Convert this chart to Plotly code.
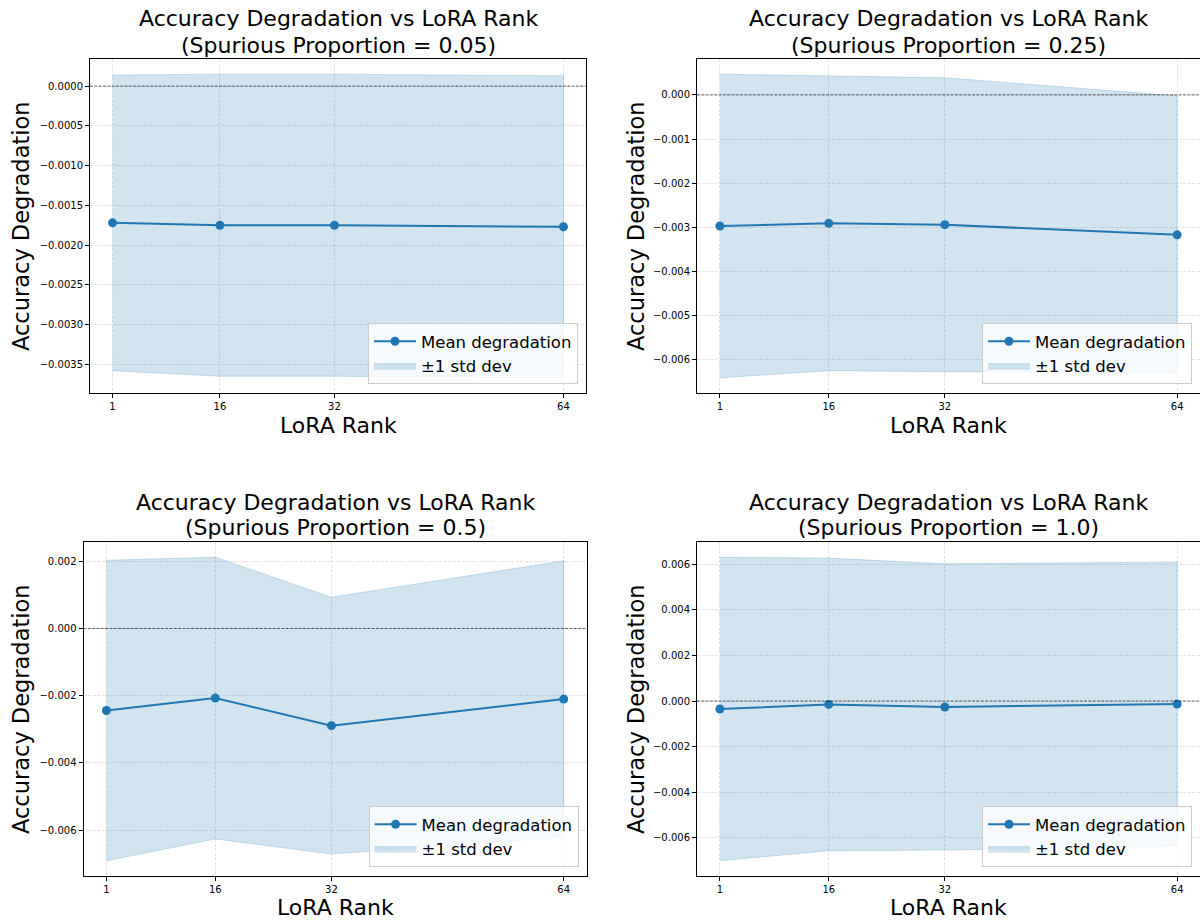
import plotly.graph_objects as go

# ---- data ----
ranks = [1, 16, 32, 64]
proportions = ["0.05", "0.25", "0.5", "1.0"]

mean_005 = [-0.00172, -0.00175, -0.00175, -0.00177]
std_005 = [0.00186, 0.00190, 0.00190, 0.00190]

mean_025 = [-0.00297, -0.00291, -0.00294, -0.00317]
std_025 = [0.00344, 0.00334, 0.00333, 0.00315]

mean_05 = [-0.00244, -0.00207, -0.00289, -0.00210]
std_05 = [0.00447, 0.00419, 0.00382, 0.00411]

mean_10 = [-0.00035, -0.00015, -0.00026, -0.00013]
std_10 = [0.00665, 0.00641, 0.00627, 0.00622]

means = [mean_005, mean_025, mean_05, mean_10]
stds = [std_005, std_025, std_05, std_10]
ytick_formats = [".4f", ".3f", ".3f", ".3f"]
ytick_steps = [0.0005, 0.001, 0.002, 0.002]

# ---- layout geometry (pixels) ----
W, H = 1200, 922
# (left, right, top, bottom) in pixels for each axes box
boxes = [
    (90, 586, 59, 393),
    (697, 1200, 59, 393),
    (83.5, 586.6, 542, 876),
    (697, 1200, 542, 876),
]
ylabel_x = [21, 636, 21, 636]
title_y = [(19, 45), (19, 45), (502, 527), (502, 527)]
xlabel_y = [425, 425, 907, 907]

FONT = "DejaVu Sans"
C0 = "#1f77b4"

fig = go.Figure()
annotations = []
shapes = []

for i in range(4):
    ax = "" if i == 0 else str(i + 1)
    xref, yref = "x" + ax, "y" + ax
    leg = "legend" if i == 0 else "legend" + str(i + 1)
    m, s = means[i], stds[i]
    upper = [a + b for a, b in zip(m, s)]
    lower = [a - b for a, b in zip(m, s)]

    fig.add_trace(go.Scatter(
        x=ranks + ranks[::-1], y=upper + lower[::-1],
        fill="toself", fillcolor="rgba(31,119,180,0.2)",
        line=dict(color="rgba(31,119,180,0.2)", width=1),
        mode="lines", name="±1 std dev",
        xaxis=xref, yaxis=yref, legend=leg, legendrank=2,
        legendgroup="band" + ax, hoverinfo="skip",
    ))
    fig.add_trace(go.Scatter(
        x=ranks, y=m, mode="lines+markers", name="Mean degradation",
        line=dict(color=C0, width=2),
        marker=dict(size=9, color=C0, line=dict(width=0)),
        xaxis=xref, yaxis=yref, legend=leg, legendrank=1,
        legendgroup="mean" + ax,
    ))

    l, r, t, b = boxes[i]
    lo, hi = min(lower), max(upper)
    pad = 0.05 * (hi - lo)
    xpad = 0.05 * (max(ranks) - min(ranks))

    axis_common = dict(
        showline=True, linecolor="black", linewidth=1, mirror=True,
        ticks="outside", ticklen=4, tickwidth=1, tickcolor="black",
        showgrid=True, gridcolor="rgba(176,176,176,0.35)", griddash="3px,1.5px",
        gridwidth=0.8, zeroline=False,
        tickfont=dict(family=FONT, size=10, color="black"),
    )
    fig.update_layout({
        "xaxis" + ax: dict(
            domain=[l / W, r / W], anchor=yref,
            range=[min(ranks) - xpad, max(ranks) + xpad],
            tickmode="array", tickvals=ranks, ticktext=[str(v) for v in ranks],
            **axis_common,
        ),
        "yaxis" + ax: dict(
            domain=[1 - b / H, 1 - t / H], anchor=xref,
            range=[lo - pad, hi + pad],
            tickformat=ytick_formats[i], dtick=ytick_steps[i], tick0=0,
            **axis_common,
        ),
        leg: dict(
            x=(r - 8) / W, y=1 - (b - 9) / H, xanchor="right", yanchor="bottom",
            xref="paper", yref="paper",
            bgcolor="rgba(255,255,255,0.8)", bordercolor="#cccccc", borderwidth=1,
            font=dict(family=FONT, size=16.5, color="black"),
            tracegroupgap=0, itemwidth=42,
        ),
    })

    shapes.append(dict(
        type="line", xref=xref + " domain", yref=yref, x0=0, x1=1, y0=0, y1=0,
        line=dict(color="rgba(0,0,0,0.75)", width=0.8, dash="3px,1.3px"),
    ))

    cx = (l + r) / 2 / W
    annotations.append(dict(
        text="Accuracy Degradation vs LoRA Rank", x=cx, y=1 - title_y[i][0] / H,
        xref="paper", yref="paper", showarrow=False, xanchor="center", yanchor="middle",
        font=dict(family=FONT, size=22, color="black"),
    ))
    annotations.append(dict(
        text=f"(Spurious Proportion = {proportions[i]})", x=cx, y=1 - title_y[i][1] / H,
        xref="paper", yref="paper", showarrow=False, xanchor="center", yanchor="middle",
        font=dict(family=FONT, size=22, color="black"),
    ))
    annotations.append(dict(
        text="LoRA Rank", x=cx, y=1 - xlabel_y[i] / H,
        xref="paper", yref="paper", showarrow=False, xanchor="center", yanchor="middle",
        font=dict(family=FONT, size=22, color="black"),
    ))
    annotations.append(dict(
        text="Accuracy Degradation", x=ylabel_x[i] / W, y=1 - (t + b) / 2 / H,
        xref="paper", yref="paper", showarrow=False, xanchor="center", yanchor="middle",
        textangle=-90, font=dict(family=FONT, size=22.5, color="black"),
    ))

fig.update_layout(
    width=W, height=H,
    margin=dict(l=0, r=0, t=0, b=0),
    paper_bgcolor="white", plot_bgcolor="white",
    annotations=annotations, shapes=shapes,
    showlegend=True,
)

fig.write_html(
    "out.html",
    config={"displayModeBar": False},
    post_script="document.body.style.margin='0';document.body.style.overflow='hidden';",
)
